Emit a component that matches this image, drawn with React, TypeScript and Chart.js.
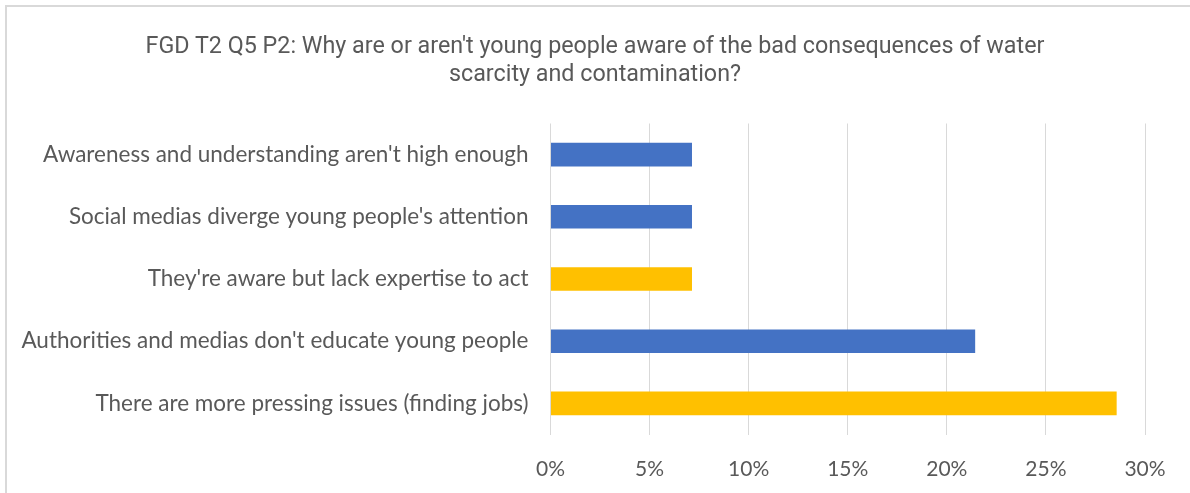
import React, { useEffect, useRef } from "react";
import { Chart, registerables } from "chart.js";

Chart.register(...registerables);

const titleLines = [
  "FGD T2 Q5 P2: Why are or aren't young people aware of the bad consequences of water",
  "scarcity and contamination?",
];

const categories = [
  "Awareness and understanding aren't high enough",
  "Social medias diverge young people's attention",
  "They're aware but lack expertise to act",
  "Authorities and medias don't educate young people",
  "There are more pressing issues (finding jobs)",
];

// share of responses, in percent
const shares = [7.14, 7.14, 7.14, 21.43, 28.57];

const barColors = ["#4472C4", "#4472C4", "#FFC000", "#4472C4", "#FFC000"];

const tickMax = 30;
const tickStep = 5;

const textColor = "#595959";
const labelFont = "'Lato', 'Open Sans', sans-serif";

export default function App() {
  const canvasRef = useRef<HTMLCanvasElement>(null);

  useEffect(() => {
    document.body.style.margin = "0";
    const canvas = canvasRef.current;
    if (!canvas) return;
    const chart = new Chart(canvas, {
      type: "bar",
      data: {
        labels: categories,
        datasets: [
          {
            data: shares,
            backgroundColor: barColors,
            borderWidth: 0,
            categoryPercentage: 1,
            barPercentage: 0.38,
          },
        ],
      },
      options: {
        indexAxis: "y",
        animation: false,
        responsive: false,
        maintainAspectRatio: false,
        layout: { padding: { left: 0, right: 45, top: 123.5, bottom: 0 } },
        plugins: {
          legend: { display: false },
          tooltip: { enabled: false },
          title: { display: false },
        },
        scales: {
          x: {
            min: 0,
            max: tickMax,
            grid: { color: "#d9d9d9", lineWidth: 1, drawTicks: false },
            border: { display: false },
            ticks: {
              stepSize: tickStep,
              color: textColor,
              padding: 22,
              font: { family: labelFont, size: 21 },
              callback: (v: any) => `${v}%`,
            },
            afterFit: (scale: any) => {
              scale.height = 58.5;
            },
          },
          y: {
            grid: { display: false, drawTicks: false },
            border: { display: false },
            ticks: {
              color: textColor,
              padding: 22,
              font: { family: labelFont, size: 22.5 },
            },
            afterFit: (scale: any) => {
              scale.width = 550.5;
            },
          },
        },
      },
    });
    return () => chart.destroy();
  }, []);

  return (
    <div style={{ position: "fixed", left: 0, top: 0, width: 1190, height: 493, background: "#fff", overflow: "hidden" }}>
      <div
        style={{
          position: "absolute",
          left: 5,
          top: 5,
          right: -10,
          bottom: -10,
          borderTop: "2px solid #d9d9d9",
          borderLeft: "2px solid #d9d9d9",
        }}
      />
      <canvas ref={canvasRef} width={1190} height={493} style={{ position: "absolute", left: 0, top: 0 }} />
      <div
        style={{
          position: "absolute",
          left: 0,
          width: 1190,
          top: 31,
          textAlign: "center",
          fontFamily: "Roboto, sans-serif",
          fontSize: 23.3,
          lineHeight: "28px",
          color: textColor,
          whiteSpace: "nowrap",
        }}
      >
        {titleLines.map((line, i) => (
          <div key={i}>{line}</div>
        ))}
      </div>
    </div>
  );
}
